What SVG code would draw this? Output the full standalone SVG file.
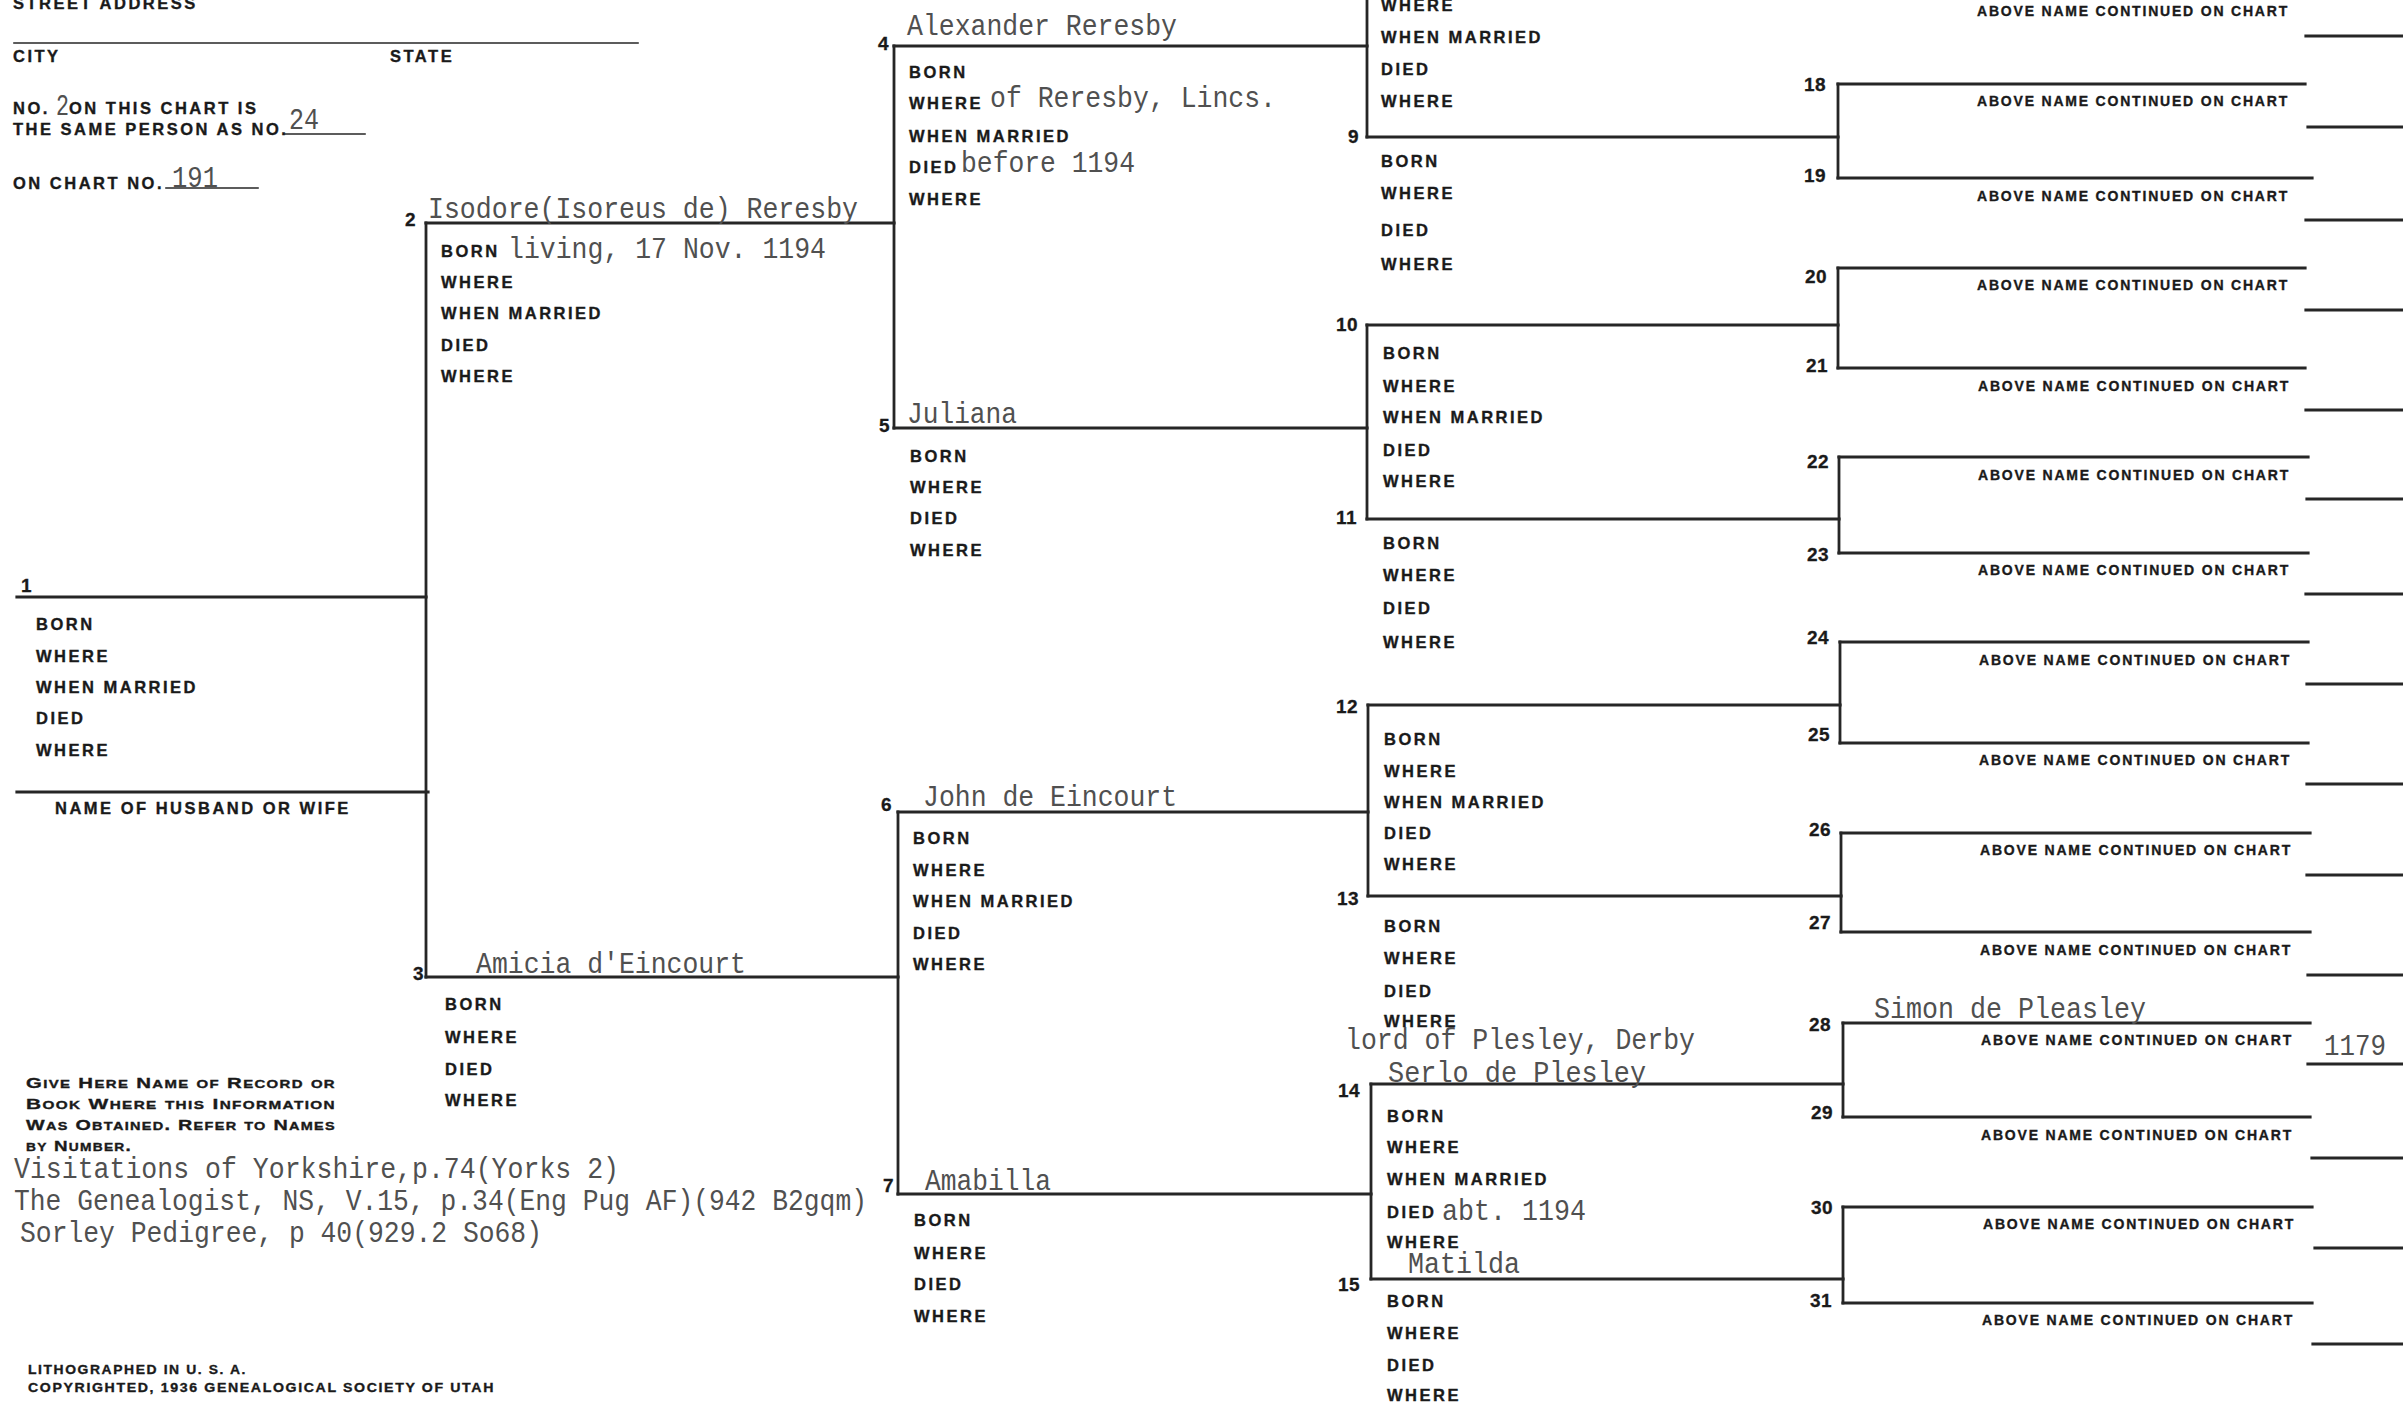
<svg xmlns="http://www.w3.org/2000/svg" width="2403" height="1402" viewBox="0 0 2403 1402">
<style>
.ln{stroke:#262626;stroke-width:3.2;fill:none;stroke-linecap:square}
.vl{stroke-width:2.8}
.thin{stroke-width:1.6}
.lb{font-family:"Liberation Sans",Arial,sans-serif;font-weight:700;font-size:16.5px;letter-spacing:2.5px;fill:#1a1a1a;stroke:#1a1a1a;stroke-width:0.35px}
.num{font-family:"Liberation Sans",Arial,sans-serif;font-weight:700;font-size:19px;letter-spacing:0.5px;fill:#1a1a1a;stroke:#1a1a1a;stroke-width:0.3px}
.ab{font-size:14px;letter-spacing:1.8px}
.sc{font-variant:small-caps;font-size:15px;letter-spacing:1px}
.ft{font-size:13px;letter-spacing:1.5px}
.tw{font-family:"Liberation Mono","DejaVu Sans Mono",monospace;font-size:30px;fill:#505050}
</style>
<rect width="2403" height="1402" fill="#ffffff"/>

<g id="connectors">
<line class="ln thin" x1="14" y1="43" x2="638" y2="43"/>
<line class="ln thin" x1="285" y1="134" x2="365" y2="134"/>
<line class="ln thin" x1="166" y1="188" x2="258" y2="188"/>
<line class="ln" x1="17" y1="597" x2="426" y2="597"/>
<line class="ln" x1="17" y1="792" x2="428" y2="792"/>
<line class="ln vl" x1="426" y1="223" x2="426" y2="977"/>
<line class="ln" x1="426" y1="223" x2="894" y2="223"/>
<line class="ln" x1="426" y1="977" x2="898" y2="977"/>
<line class="ln vl" x1="894" y1="46" x2="894" y2="428"/>
<line class="ln" x1="894" y1="46" x2="1367" y2="46"/>
<line class="ln" x1="894" y1="428" x2="1367" y2="428"/>
<line class="ln vl" x1="898" y1="812" x2="898" y2="1194"/>
<line class="ln" x1="898" y1="812" x2="1368" y2="812"/>
<line class="ln" x1="898" y1="1194" x2="1371" y2="1194"/>
<line class="ln vl" x1="1367" y1="-5" x2="1367" y2="137"/>
<line class="ln" x1="1367" y1="137" x2="1838" y2="137"/>
<line class="ln vl" x1="1367" y1="325" x2="1367" y2="519"/>
<line class="ln" x1="1367" y1="325" x2="1838" y2="325"/>
<line class="ln" x1="1367" y1="519" x2="1839" y2="519"/>
<line class="ln vl" x1="1368" y1="705" x2="1368" y2="896"/>
<line class="ln" x1="1368" y1="705" x2="1840" y2="705"/>
<line class="ln" x1="1368" y1="896" x2="1841" y2="896"/>
<line class="ln vl" x1="1371" y1="1084" x2="1371" y2="1279"/>
<line class="ln" x1="1371" y1="1084" x2="1843" y2="1084"/>
<line class="ln" x1="1371" y1="1279" x2="1843" y2="1279"/>
<line class="ln vl" x1="1838" y1="84" x2="1838" y2="178"/>
<line class="ln" x1="1838" y1="84" x2="2305" y2="84"/>
<line class="ln" x1="1838" y1="178" x2="2312" y2="178"/>
<line class="ln vl" x1="1838" y1="268" x2="1838" y2="368"/>
<line class="ln" x1="1838" y1="268" x2="2305" y2="268"/>
<line class="ln" x1="1838" y1="368" x2="2305" y2="368"/>
<line class="ln vl" x1="1839" y1="457" x2="1839" y2="553"/>
<line class="ln" x1="1839" y1="457" x2="2308" y2="457"/>
<line class="ln" x1="1839" y1="553" x2="2308" y2="553"/>
<line class="ln vl" x1="1840" y1="642" x2="1840" y2="743"/>
<line class="ln" x1="1840" y1="642" x2="2308" y2="642"/>
<line class="ln" x1="1840" y1="743" x2="2308" y2="743"/>
<line class="ln vl" x1="1841" y1="833" x2="1841" y2="932"/>
<line class="ln" x1="1841" y1="833" x2="2310" y2="833"/>
<line class="ln" x1="1841" y1="932" x2="2310" y2="932"/>
<line class="ln vl" x1="1843" y1="1023" x2="1843" y2="1117"/>
<line class="ln" x1="1843" y1="1023" x2="2310" y2="1023"/>
<line class="ln" x1="1843" y1="1117" x2="2310" y2="1117"/>
<line class="ln vl" x1="1843" y1="1207" x2="1843" y2="1303"/>
<line class="ln" x1="1843" y1="1207" x2="2312" y2="1207"/>
<line class="ln" x1="1843" y1="1303" x2="2312" y2="1303"/>
<line class="ln" x1="2306" y1="36" x2="2403" y2="36"/>
<line class="ln" x1="2308" y1="127" x2="2403" y2="127"/>
<line class="ln" x1="2306" y1="220" x2="2403" y2="220"/>
<line class="ln" x1="2306" y1="310" x2="2403" y2="310"/>
<line class="ln" x1="2306" y1="410" x2="2403" y2="410"/>
<line class="ln" x1="2307" y1="499" x2="2403" y2="499"/>
<line class="ln" x1="2306" y1="594" x2="2403" y2="594"/>
<line class="ln" x1="2307" y1="684" x2="2403" y2="684"/>
<line class="ln" x1="2307" y1="784" x2="2403" y2="784"/>
<line class="ln" x1="2307" y1="875" x2="2403" y2="875"/>
<line class="ln" x1="2308" y1="975" x2="2403" y2="975"/>
<line class="ln" x1="2308" y1="1064" x2="2403" y2="1064"/>
<line class="ln" x1="2312" y1="1158" x2="2403" y2="1158"/>
<line class="ln" x1="2315" y1="1248" x2="2403" y2="1248"/>
<line class="ln" x1="2313" y1="1344" x2="2403" y2="1344"/>
</g>

<g id="header">
<text class="lb" x="13" y="9">STREET ADDRESS</text>
<text class="lb" x="13" y="62">CITY</text>
<text class="lb" x="390" y="62">STATE</text>
<text class="lb" x="13" y="114">NO.</text>
<text class="tw" x="56" y="115" textLength="13" lengthAdjust="spacingAndGlyphs">2</text>
<text class="lb" x="69" y="114">ON THIS CHART IS</text>
<text class="lb" x="13" y="135">THE SAME PERSON AS NO.</text>
<text class="tw" x="289" y="129" textLength="30" lengthAdjust="spacingAndGlyphs">24</text>
<text class="lb" x="13" y="189">ON CHART NO.</text>
<text class="tw" x="172" y="187" textLength="46" lengthAdjust="spacingAndGlyphs">191</text>
</g>

<g id="p1">
<text class="num" x="21" y="592">1</text>
<text class="lb" x="36" y="630">BORN</text>
<text class="lb" x="36" y="662">WHERE</text>
<text class="lb" x="36" y="693">WHEN MARRIED</text>
<text class="lb" x="36" y="724">DIED</text>
<text class="lb" x="36" y="756">WHERE</text>
<text class="lb" x="55" y="814">NAME OF HUSBAND OR WIFE</text>
</g>

<g id="p2">
<text class="num" x="405" y="226">2</text>
<text class="tw" x="428" y="218" textLength="430" lengthAdjust="spacingAndGlyphs">Isodore(Isoreus de) Reresby</text>
<text class="lb" x="441" y="257">BORN</text>
<text class="tw" x="508" y="258" textLength="318" lengthAdjust="spacingAndGlyphs">living, 17 Nov. 1194</text>
<text class="lb" x="441" y="288">WHERE</text>
<text class="lb" x="441" y="319">WHEN MARRIED</text>
<text class="lb" x="441" y="351">DIED</text>
<text class="lb" x="441" y="382">WHERE</text>
</g>

<g id="p3">
<text class="num" x="413" y="980">3</text>
<text class="tw" x="476" y="973" textLength="270" lengthAdjust="spacingAndGlyphs">Amicia d'Eincourt</text>
<text class="lb" x="445" y="1010">BORN</text>
<text class="lb" x="445" y="1043">WHERE</text>
<text class="lb" x="445" y="1075">DIED</text>
<text class="lb" x="445" y="1106">WHERE</text>
</g>

<g id="p4">
<text class="num" x="878" y="50">4</text>
<text class="tw" x="907" y="35" textLength="270" lengthAdjust="spacingAndGlyphs">Alexander Reresby</text>
<text class="lb" x="909" y="78">BORN</text>
<text class="lb" x="909" y="109">WHERE</text>
<text class="tw" x="990" y="107" textLength="286" lengthAdjust="spacingAndGlyphs">of Reresby, Lincs.</text>
<text class="lb" x="909" y="142">WHEN MARRIED</text>
<text class="lb" x="909" y="173">DIED</text>
<text class="tw" x="961" y="172" textLength="174" lengthAdjust="spacingAndGlyphs">before 1194</text>
<text class="lb" x="909" y="205">WHERE</text>
</g>

<g id="p5">
<text class="num" x="879" y="432">5</text>
<text class="tw" x="907" y="423" textLength="110" lengthAdjust="spacingAndGlyphs">Juliana</text>
<text class="lb" x="910" y="462">BORN</text>
<text class="lb" x="910" y="493">WHERE</text>
<text class="lb" x="910" y="524">DIED</text>
<text class="lb" x="910" y="556">WHERE</text>
</g>

<g id="p6">
<text class="num" x="881" y="811">6</text>
<text class="tw" x="923" y="806" textLength="254" lengthAdjust="spacingAndGlyphs">John de Eincourt</text>
<text class="lb" x="913" y="844">BORN</text>
<text class="lb" x="913" y="876">WHERE</text>
<text class="lb" x="913" y="907">WHEN MARRIED</text>
<text class="lb" x="913" y="939">DIED</text>
<text class="lb" x="913" y="970">WHERE</text>
</g>

<g id="p7">
<text class="num" x="883" y="1192">7</text>
<text class="tw" x="925" y="1190" textLength="126" lengthAdjust="spacingAndGlyphs">Amabilla</text>
<text class="lb" x="914" y="1226">BORN</text>
<text class="lb" x="914" y="1259">WHERE</text>
<text class="lb" x="914" y="1290">DIED</text>
<text class="lb" x="914" y="1322">WHERE</text>
</g>

<g id="p8">
<text class="lb" x="1381" y="11">WHERE</text>
<text class="lb" x="1381" y="43">WHEN MARRIED</text>
<text class="lb" x="1381" y="75">DIED</text>
<text class="lb" x="1381" y="107">WHERE</text>
</g>

<g id="p9">
<text class="num" x="1348" y="143">9</text>
<text class="lb" x="1381" y="167">BORN</text>
<text class="lb" x="1381" y="199">WHERE</text>
<text class="lb" x="1381" y="236">DIED</text>
<text class="lb" x="1381" y="270">WHERE</text>
</g>

<g id="p10">
<text class="num" x="1336" y="331">10</text>
<text class="lb" x="1383" y="359">BORN</text>
<text class="lb" x="1383" y="392">WHERE</text>
<text class="lb" x="1383" y="423">WHEN MARRIED</text>
<text class="lb" x="1383" y="456">DIED</text>
<text class="lb" x="1383" y="487">WHERE</text>
</g>

<g id="p11">
<text class="num" x="1336" y="524">11</text>
<text class="lb" x="1383" y="549">BORN</text>
<text class="lb" x="1383" y="581">WHERE</text>
<text class="lb" x="1383" y="614">DIED</text>
<text class="lb" x="1383" y="648">WHERE</text>
</g>

<g id="p12">
<text class="num" x="1336" y="713">12</text>
<text class="lb" x="1384" y="745">BORN</text>
<text class="lb" x="1384" y="777">WHERE</text>
<text class="lb" x="1384" y="808">WHEN MARRIED</text>
<text class="lb" x="1384" y="839">DIED</text>
<text class="lb" x="1384" y="870">WHERE</text>
</g>

<g id="p13">
<text class="num" x="1337" y="905">13</text>
<text class="lb" x="1384" y="932">BORN</text>
<text class="lb" x="1384" y="964">WHERE</text>
<text class="lb" x="1384" y="997">DIED</text>
<text class="lb" x="1384" y="1027">WHERE</text>
<text class="tw" x="1345" y="1049" textLength="350" lengthAdjust="spacingAndGlyphs">lord of Plesley, Derby</text>
</g>

<g id="p14">
<text class="num" x="1338" y="1097">14</text>
<text class="tw" x="1388" y="1082" textLength="258" lengthAdjust="spacingAndGlyphs">Serlo de Plesley</text>
<text class="lb" x="1387" y="1122">BORN</text>
<text class="lb" x="1387" y="1153">WHERE</text>
<text class="lb" x="1387" y="1185">WHEN MARRIED</text>
<text class="lb" x="1387" y="1218">DIED</text>
<text class="tw" x="1442" y="1220" textLength="144" lengthAdjust="spacingAndGlyphs">abt. 1194</text>
<text class="lb" x="1387" y="1248">WHERE</text>
</g>

<g id="p15">
<text class="tw" x="1408" y="1273" textLength="112" lengthAdjust="spacingAndGlyphs">Matilda</text>
<text class="num" x="1338" y="1291">15</text>
<text class="lb" x="1387" y="1307">BORN</text>
<text class="lb" x="1387" y="1339">WHERE</text>
<text class="lb" x="1387" y="1371">DIED</text>
<text class="lb" x="1387" y="1401">WHERE</text>
</g>

<g id="p17"><text class="lb ab" x="1977" y="16">ABOVE NAME CONTINUED ON CHART</text></g>
<g id="p18"><text class="num" x="1804" y="91">18</text><text class="lb ab" x="1977" y="106">ABOVE NAME CONTINUED ON CHART</text></g>
<g id="p19"><text class="num" x="1804" y="182">19</text><text class="lb ab" x="1977" y="201">ABOVE NAME CONTINUED ON CHART</text></g>
<g id="p20"><text class="num" x="1805" y="283">20</text><text class="lb ab" x="1977" y="290">ABOVE NAME CONTINUED ON CHART</text></g>
<g id="p21"><text class="num" x="1806" y="372">21</text><text class="lb ab" x="1978" y="391">ABOVE NAME CONTINUED ON CHART</text></g>
<g id="p22"><text class="num" x="1807" y="468">22</text><text class="lb ab" x="1978" y="480">ABOVE NAME CONTINUED ON CHART</text></g>
<g id="p23"><text class="num" x="1807" y="561">23</text><text class="lb ab" x="1978" y="575">ABOVE NAME CONTINUED ON CHART</text></g>
<g id="p24"><text class="num" x="1807" y="644">24</text><text class="lb ab" x="1979" y="665">ABOVE NAME CONTINUED ON CHART</text></g>
<g id="p25"><text class="num" x="1808" y="741">25</text><text class="lb ab" x="1979" y="765">ABOVE NAME CONTINUED ON CHART</text></g>
<g id="p26"><text class="num" x="1809" y="836">26</text><text class="lb ab" x="1980" y="855">ABOVE NAME CONTINUED ON CHART</text></g>
<g id="p27"><text class="num" x="1809" y="929">27</text><text class="lb ab" x="1980" y="955">ABOVE NAME CONTINUED ON CHART</text></g>
<g id="p28"><text class="num" x="1809" y="1031">28</text><text class="tw" x="1874" y="1018" textLength="272" lengthAdjust="spacingAndGlyphs">Simon de Pleasley</text><text class="lb ab" x="1981" y="1045">ABOVE NAME CONTINUED ON CHART</text><text class="tw" x="2324" y="1055" textLength="62" lengthAdjust="spacingAndGlyphs">1179</text></g>
<g id="p29"><text class="num" x="1811" y="1119">29</text><text class="lb ab" x="1981" y="1140">ABOVE NAME CONTINUED ON CHART</text></g>
<g id="p30"><text class="num" x="1811" y="1214">30</text><text class="lb ab" x="1983" y="1229">ABOVE NAME CONTINUED ON CHART</text></g>
<g id="p31"><text class="num" x="1810" y="1307">31</text><text class="lb ab" x="1982" y="1325">ABOVE NAME CONTINUED ON CHART</text></g>

<g id="sources">
<text class="lb sc" x="26" y="1088" textLength="310" lengthAdjust="spacingAndGlyphs">Give Here Name of Record or</text>
<text class="lb sc" x="26" y="1109" textLength="310" lengthAdjust="spacingAndGlyphs">Book Where this Information</text>
<text class="lb sc" x="26" y="1130" textLength="310" lengthAdjust="spacingAndGlyphs">Was Obtained.  Refer to Names</text>
<text class="lb sc" x="26" y="1151" textLength="106" lengthAdjust="spacingAndGlyphs">by Number.</text>
<text class="tw" x="14" y="1178" textLength="605" lengthAdjust="spacingAndGlyphs">Visitations of Yorkshire,p.74(Yorks 2)</text>
<text class="tw" x="14" y="1210" textLength="853" lengthAdjust="spacingAndGlyphs">The Genealogist, NS, V.15, p.34(Eng Pug AF)(942 B2gqm)</text>
<text class="tw" x="20" y="1242" textLength="522" lengthAdjust="spacingAndGlyphs">Sorley Pedigree, p 40(929.2 So68)</text>
</g>

<g id="footer">
<text class="lb ft" x="28" y="1374" textLength="219" lengthAdjust="spacingAndGlyphs">LITHOGRAPHED IN U. S. A.</text>
<text class="lb ft" x="28" y="1392" textLength="467" lengthAdjust="spacingAndGlyphs">COPYRIGHTED, 1936 GENEALOGICAL SOCIETY OF UTAH</text>
</g>
</svg>
